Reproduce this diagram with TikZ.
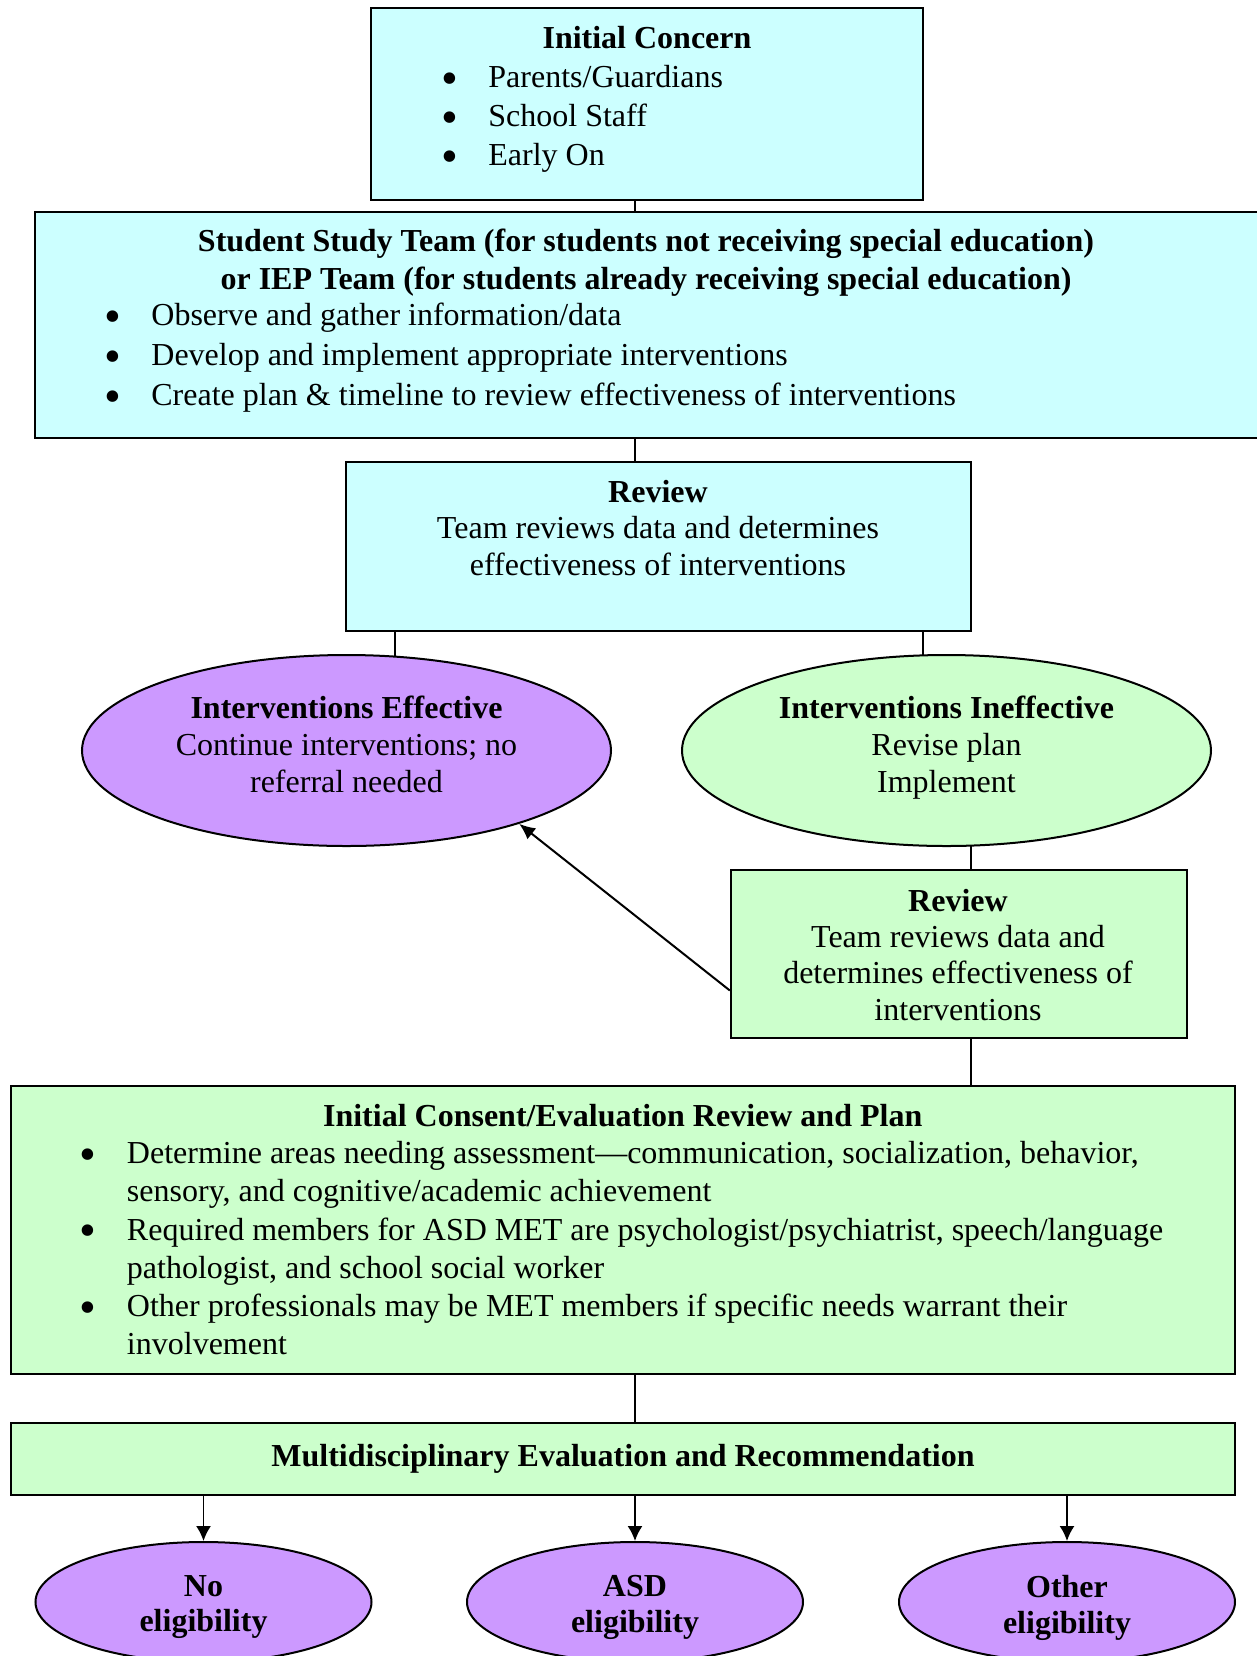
\documentclass[tikz,border=0pt]{standalone}
\usepackage{graphicx}
\usepackage{fontspec}
\setmainfont{Liberation Serif}
\usetikzlibrary{calc,backgrounds,shapes.geometric,arrows.meta}
\definecolor{cyanbox}{HTML}{CCFFFF}
\definecolor{greenbox}{HTML}{CCFFCC}
\definecolor{purplebox}{HTML}{CC99FF}
\newcommand\mybul{\makebox[22.8pt][l]{\hspace*{-0.8pt}\raisebox{-3.4pt}[0pt][0pt]{\scalebox{1.5}{\textbullet}}}}
\newcommand\myind{\makebox[22.8pt]{}}
\begin{document}
\begin{tikzpicture}[x=0.5pt,y=-0.5pt,
  box/.style={draw, rectangle, line width=1.2pt, inner sep=0pt},
  ell/.style={draw, ellipse, line width=1pt, inner sep=0pt},
  txt/.style={inner sep=0pt, align=center, anchor=north},
  lst/.style={inner sep=0pt, align=left, anchor=north west},
  conn/.style={line width=0.8pt},
  arrA/.style={line width=1pt, -{Latex[length=8pt,width=7pt]}},
  arrB/.style={line width=0.85pt, -{Latex[length=7.5pt,width=7.5pt]}}]
\useasboundingbox (0,0) rectangle (1257,1656);
\clip (0,0) rectangle (1257,1656);

% Initial concern
\node[box, fill=cyanbox, minimum width=276pt, minimum height=96pt] (b1) at (647,104) {};
\node[txt, font=\bfseries\fontsize{16}{19.5}\selectfont] (t1) at (647,25.5) {Initial Concern};
\node[lst, font=\fontsize{16}{19.5}\selectfont] (l1) at (442.4,64.6)
  {\mybul Parents/Guardians\\\mybul School Staff\\\mybul Early On};

% Student study team
\node[box, fill=cyanbox, minimum width=620pt, minimum height=113pt] (b2) at (655,325) {};
\node[txt, font=\bfseries\fontsize{16}{18.75}\selectfont] (t2) at (646,229)
  {Student Study Team (for students not receiving special education)\\or IEP Team (for students already receiving special education)};
\node[lst, font=\fontsize{16}{19.9}\selectfont] (l2) at (105.4,303)
  {\mybul Observe and gather information/data\\\mybul Develop and implement appropriate interventions\\\mybul Create plan \& timeline to review effectiveness of interventions};

% Review 1
\node[box, fill=cyanbox, minimum width=312.5pt, minimum height=84.5pt] (r1) at (658.5,546.5) {};
\node[txt, font=\fontsize{16}{18.15}\selectfont] (tr1) at (658,480)
  {\textbf{Review}\\Team reviews data and determines\\effectiveness of interventions};

% Ellipses
\node[ell, fill=purplebox, minimum width=264.5pt, minimum height=95.5pt] (ee) at (346.5,750.5) {};
\node[txt, font=\fontsize{16}{18.5}\selectfont] (te) at (346.5,696)
  {\textbf{Interventions Effective}\\Continue interventions; no\\referral needed};
\node[ell, fill=greenbox, minimum width=264.5pt, minimum height=95.5pt] (ei) at (946.5,750.5) {};
\node[txt, font=\fontsize{16}{18.5}\selectfont] (ti) at (946.5,696)
  {\textbf{Interventions Ineffective}\\Revise plan\\Implement};

% Review 2
\node[box, fill=greenbox, minimum width=228pt, minimum height=84pt] (r2) at (959,954) {};
\node[txt, font=\fontsize{16}{18.15}\selectfont] (tr2) at (958,888.5)
  {\textbf{Review}\\Team reviews data and\\determines effectiveness of\\interventions};

% Consent
\node[box, fill=greenbox, minimum width=612pt, minimum height=144pt] (b3) at (623,1230) {};
\node[txt, font=\bfseries\fontsize{16}{19}\selectfont] (t3) at (622.7,1104) {Initial Consent/Evaluation Review and Plan};
\node[lst, font=\fontsize{16}{19.1}\selectfont] (l3) at (81,1141)
  {\mybul Determine areas needing assessment—communication, socialization, behavior,\\
   \myind sensory, and cognitive/academic achievement\\
   \mybul Required members for ASD MET are psychologist/psychiatrist, speech/language\\
   \myind pathologist, and school social worker\\
   \mybul Other professionals may be MET members if specific needs warrant their\\
   \myind involvement};

% MER
\node[box, fill=greenbox, minimum width=612pt, minimum height=36pt, font=\bfseries\fontsize{16}{19}\selectfont] (mer) at (623,1459)
  {Multidisciplinary Evaluation and Recommendation};

% Bottom ellipses
\node[ell, fill=purplebox, minimum width=168pt, minimum height=60pt] (n1) at (203.5,1602) {};
\node[ell, fill=purplebox, minimum width=168pt, minimum height=60pt] (n2) at (635,1602) {};
\node[ell, fill=purplebox, minimum width=168pt, minimum height=60pt] (n3) at (1067,1602) {};
\node[txt, font=\bfseries\fontsize{16}{17.75}\selectfont] (tn1) at (203.5,1575) {No\\eligibility};
\node[txt, font=\bfseries\fontsize{16}{17.75}\selectfont] (tn2) at (635,1575) {ASD\\eligibility};
\node[txt, font=\bfseries\fontsize{16}{17.75}\selectfont] (tn3) at (1067,1575) {Other\\eligibility};

% Connectors
\begin{pgfonlayer}{background}
\draw[conn] ([xshift=-6pt]b1.south) -- ([xshift=-6pt]b1.south |- b2.north);
\draw[conn] ([xshift=-11.75pt]r1.north) -- ([xshift=-11.75pt]r1.north |- b2.south);
\draw[conn] ([xshift=24.25pt,yshift=-3pt]ee.north) -- ([xshift=24.25pt]ee.north |- r1.south);
\draw[conn] ([xshift=-11.75pt,yshift=-3pt]ei.north) -- ([xshift=-11.75pt]ei.north |- r1.south);
\draw[conn] ([xshift=12.25pt,yshift=3pt]ei.south) -- ([xshift=12.25pt]ei.south |- r2.north);
\draw[conn] ([xshift=6pt]r2.south) -- ([xshift=6pt]r2.south |- b3.north);
\draw[conn] ([xshift=6pt]b3.south) -- ([xshift=6pt]b3.south |- mer.north);
\end{pgfonlayer}

\draw[arrA] ($(r2.south west)!0.286!(r2.north west)$) -- (ee.-23.6);
\draw[arrB] (n1.north |- mer.south) -- (n1.north);
\draw[arrB] (n2.north |- mer.south) -- (n2.north);
\draw[arrB] (n3.north |- mer.south) -- (n3.north);
\end{tikzpicture}
\end{document}
